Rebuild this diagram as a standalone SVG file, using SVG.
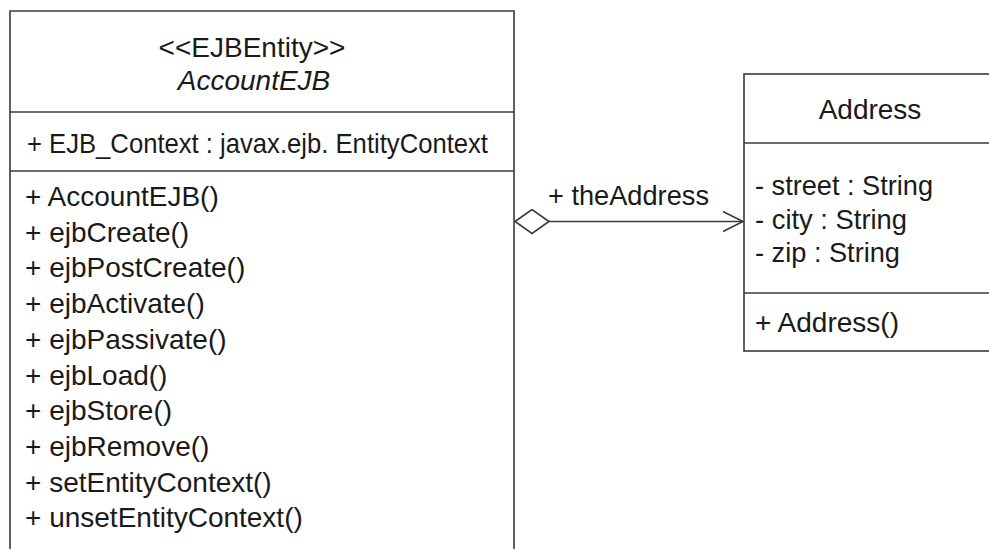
<svg xmlns="http://www.w3.org/2000/svg" width="989" height="549" viewBox="0 0 989 549">
<style>
.box{fill:#fff;stroke:#3a3a3a;stroke-width:1.6}
.div{stroke:#3a3a3a;stroke-width:1.6;fill:none}
text{font-family:"Liberation Sans",Arial,Helvetica,sans-serif;font-size:28px;fill:#1a1a1a}
.c{text-anchor:middle}
.i{font-style:italic}
.conn{stroke:#3a3a3a;stroke-width:1.6;fill:none}
</style>
<defs>
<marker id="open" markerUnits="userSpaceOnUse" markerWidth="24" markerHeight="24" refX="20" refY="11" orient="auto">
<path d="M0,1 L20,11 L0,21" fill="none" stroke="#3a3a3a" stroke-width="1.6"/>
</marker>
<marker id="diamond" markerUnits="userSpaceOnUse" markerWidth="38" markerHeight="28" refX="1" refY="13" orient="auto">
<path d="M1,13 L18,1 L35,13 L18,25 Z" fill="#fff" stroke="#3a3a3a" stroke-width="1.6"/>
</marker>
</defs>
<rect width="989" height="549" fill="#fff"/>
<g id="AccountEJB">
<path class="box" d="M10,560 L10,11 L514,11 L514,560"/>
<line class="div" x1="10" y1="112" x2="514" y2="112"/>
<line class="div" x1="10" y1="171" x2="514" y2="171"/>
<text class="c" x="252" y="57">&lt;&lt;EJBEntity&gt;&gt;</text>
<text class="c i" x="254" y="90">AccountEJB</text>
<text x="27" y="153" textLength="461" lengthAdjust="spacingAndGlyphs">+ EJB_Context : javax.ejb. EntityContext</text>
<text x="25" y="206">+ AccountEJB()</text>
<text x="25" y="241.7">+ ejbCreate()</text>
<text x="25" y="277.4">+ ejbPostCreate()</text>
<text x="25" y="313.1">+ ejbActivate()</text>
<text x="25" y="348.8">+ ejbPassivate()</text>
<text x="25" y="384.5">+ ejbLoad()</text>
<text x="25" y="420.2">+ ejbStore()</text>
<text x="25" y="455.9">+ ejbRemove()</text>
<text x="25" y="491.6">+ setEntityContext()</text>
<text x="25" y="527.3">+ unsetEntityContext()</text>
</g>
<g id="Address">
<rect class="box" x="744" y="74" width="260" height="277"/>
<line class="div" x1="744" y1="143" x2="1004" y2="143"/>
<line class="div" x1="744" y1="293" x2="1004" y2="293"/>
<text class="c" x="870" y="119">Address</text>
<text x="755" y="195" textLength="178" lengthAdjust="spacingAndGlyphs">- street : String</text>
<text x="755" y="228.5" textLength="152" lengthAdjust="spacingAndGlyphs">- city : String</text>
<text x="755" y="262" textLength="145" lengthAdjust="spacingAndGlyphs">- zip : String</text>
<text x="755" y="332">+ Address()</text>
</g>
<g id="connectors">
<line class="conn" x1="515" y1="221.5" x2="743" y2="221.5" marker-start="url(#diamond)" marker-end="url(#open)"/>
<text x="548" y="205" textLength="161" lengthAdjust="spacingAndGlyphs">+ theAddress</text>
</g>
</svg>
